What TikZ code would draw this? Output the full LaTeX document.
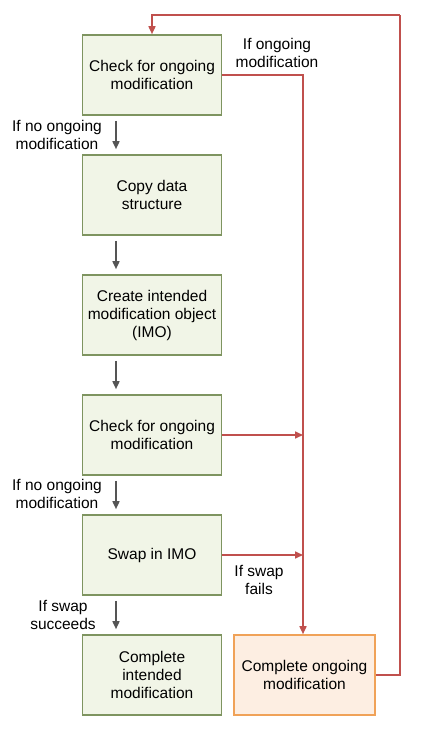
\documentclass[tikz,border=0pt]{standalone}
\usepackage{fontspec}
\setmainfont{Liberation Sans}
\usetikzlibrary{arrows.meta}
\definecolor{gfill}{HTML}{F1F5E7}
\definecolor{gdraw}{HTML}{7E9460}
\definecolor{ofill}{HTML}{FDEEE2}
\definecolor{odraw}{HTML}{F0A258}
\definecolor{redl}{HTML}{C0504D}
\definecolor{grayl}{HTML}{555555}
\tikzset{
  stepbox/.style={draw=gdraw, fill=gfill, line width=1.6pt, minimum width=139pt, minimum height=80pt, align=center, inner sep=2pt, font=\fontsize{15.5}{18}\selectfont},
  obox/.style={stepbox, draw=odraw, fill=ofill, minimum width=141pt},
  lbl/.style={align=center, font=\fontsize{15.5}{18}\selectfont, inner sep=0pt},
  garrow/.style={draw=grayl, line width=1.6pt, -{Triangle[length=8pt,width=7pt]}},
  rarrow/.style={draw=redl, line width=1.6pt, -{Triangle[length=8pt,width=7pt]}},
  rline/.style={draw=redl, line width=1.6pt},
}
\begin{document}
\begin{tikzpicture}[x=1pt,y=1pt]
\useasboundingbox (0,0) rectangle (434,-738);
\node[stepbox] (b1) at (152,-75) {Check for ongoing\\modification};
\node[stepbox] (b2) at (152,-195) {Copy data\\structure};
\node[stepbox] (b3) at (152,-315) {Create intended\\modification object\\(IMO)};
\node[stepbox] (b4) at (152,-435) {Check for ongoing\\modification};
\node[stepbox] (b5) at (152,-555) {Swap in IMO};
\node[stepbox] (b6) at (152,-675) {Complete\\intended\\modification};
\node[obox] (o) at (304.5,-675) {Complete ongoing\\modification};

\coordinate (j4) at (303,-435);
\coordinate (j5) at (303,-555);
\coordinate (tr) at (400,-15);
\coordinate (tl) at (152,-15);

\foreach \a/\b in {b1/b2,b2/b3,b3/b4,b4/b5,b5/b6}
  \draw[garrow] ([xshift=-36pt,yshift=-5pt]\a.south) -- ([xshift=-36pt,yshift=5pt]\b.north);

\draw[rarrow] (b1.east) -| (o.north -| 303,0);
\draw[rarrow] (b4.east) -- (j4);
\draw[rarrow] (b5.east) -- (j5);
\draw[rline] (o.east) -| (tr);
\draw[rarrow] (tr) -- (tl) -- (b1.north);

\node[lbl] (l1) at (57,-135) {If no ongoing\\modification};
\node[lbl] (l2) at (277,-53) {If ongoing\\modification};
\node[lbl] (l3) at (57,-494) {If no ongoing\\modification};
\node[lbl] (l4) at (259,-580) {If swap\\fails};
\node[lbl] (l5) at (63,-615) {If swap\\succeeds};
\end{tikzpicture}
\end{document}
